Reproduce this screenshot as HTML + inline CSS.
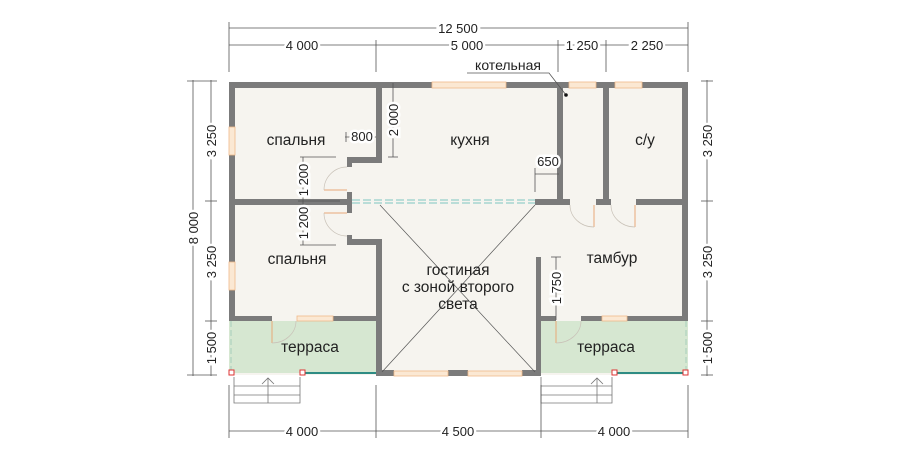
<!DOCTYPE html>
<html><head><meta charset="utf-8"><style>
body{margin:0;background:#fff}
svg{display:block}
text{font-family:"Liberation Sans",sans-serif;fill:#222}
</style></head><body>
<svg width="900" height="460" viewBox="0 0 900 460" xmlns="http://www.w3.org/2000/svg">
<rect x="229" y="82" width="459" height="293" fill="#f6f4ef"/>
<rect x="229" y="321" width="147" height="52" fill="#d6e7d1"/>
<rect x="541" y="321" width="147" height="52" fill="#d6e7d1"/>
<rect x="376" y="321" width="165" height="54" fill="#f6f4ef"/>
<g fill="#7b7b7b">
<rect x="229" y="82" width="203" height="6"/>
<rect x="506" y="82" width="63" height="6"/>
<rect x="596" y="82" width="19" height="6"/>
<rect x="642" y="82" width="46" height="6"/>
<rect x="229" y="82" width="6" height="45"/>
<rect x="229" y="155" width="6" height="166"/>
<rect x="229" y="290" width="6" height="31"/>
<rect x="682" y="82" width="6" height="239"/>
<rect x="376" y="82" width="6" height="81"/>
<rect x="347" y="157" width="35" height="6"/>
<rect x="347" y="157" width="5" height="10"/>
<rect x="347" y="192" width="5" height="21"/>
<rect x="229" y="199" width="123" height="6"/>
<rect x="347" y="235" width="5" height="10"/>
<rect x="347" y="239" width="34" height="6"/>
<rect x="376" y="239" width="6" height="137"/>
<rect x="557" y="82" width="6" height="123"/>
<rect x="603" y="82" width="6" height="123"/>
<rect x="535" y="199" width="35" height="6"/>
<rect x="596" y="199" width="15" height="6"/>
<rect x="636" y="199" width="52" height="6"/>
<rect x="229" y="316" width="43" height="5"/>
<rect x="333" y="316" width="48" height="5"/>
<rect x="376" y="370" width="18" height="6"/>
<rect x="448" y="370" width="20" height="6"/>
<rect x="522" y="370" width="19" height="6"/>
<rect x="536" y="257" width="5" height="119"/>
<rect x="536" y="316" width="20" height="5"/>
<rect x="581" y="316" width="21" height="5"/>
<rect x="627" y="316" width="61" height="5"/>
</g>
<g fill="#fbe8d3" stroke="#f0b98a" stroke-width="0.8">
<rect x="432" y="82" width="74" height="6"/>
<rect x="569" y="82" width="27" height="6"/>
<rect x="615" y="82" width="27" height="6"/>
<rect x="229" y="127" width="6" height="28"/>
<rect x="229" y="262" width="6" height="28"/>
<rect x="297" y="316" width="36" height="5"/>
<rect x="394" y="371" width="54" height="5"/>
<rect x="468" y="371" width="54" height="5"/>
<rect x="602" y="316" width="25" height="5"/>
</g>
<line x1="352" y1="200" x2="535" y2="200" stroke="#7fc6c0" stroke-width="1" stroke-dasharray="8,3"/>
<line x1="352" y1="203" x2="535" y2="203" stroke="#7fc6c0" stroke-width="1" stroke-dasharray="8,3"/>
<line x1="302" y1="373" x2="376" y2="373" stroke="#2e8c84" stroke-width="2"/>
<line x1="614" y1="373" x2="685" y2="373" stroke="#2e8c84" stroke-width="2"/>
<line x1="231" y1="321" x2="231" y2="373" stroke="#9cc9b7" stroke-width="0.8" stroke-dasharray="6,3"/>
<line x1="686" y1="321" x2="686" y2="373" stroke="#9cc9b7" stroke-width="0.8" stroke-dasharray="6,3"/>
<g fill="#fff" stroke="#d33" stroke-width="1"><rect x="229" y="370" width="5" height="5"/><rect x="300" y="370" width="5" height="5"/><rect x="612" y="370" width="5" height="5"/><rect x="683" y="370" width="5" height="5"/></g>
<g fill="none" stroke="#e8a878" stroke-width="1">
<line x1="324" y1="190" x2="347" y2="190"/><line x1="324" y1="213" x2="347" y2="213"/>
<line x1="594" y1="205" x2="594" y2="227"/><line x1="635" y1="205" x2="635" y2="227"/>
<line x1="272" y1="321" x2="272" y2="343"/><line x1="556" y1="321" x2="556" y2="343"/>
</g>
<g fill="none" stroke="#c9c2b8" stroke-width="0.7">
<path d="M324 190 A23 23 0 0 1 347 167"/><path d="M324 213 A23 23 0 0 0 347 236"/>
<path d="M570 205 A24 22 0 0 0 594 227"/><path d="M611 205 A24 22 0 0 0 635 227"/>
<path d="M272 343 A24 22 0 0 0 296 321"/><path d="M556 343 A25 22 0 0 0 581 321"/>
</g>
<g stroke="#555" stroke-width="0.7"><line x1="380" y1="205" x2="535" y2="372"/><line x1="535" y1="205" x2="382" y2="372"/></g>
<g fill="none" stroke="#777" stroke-width="0.8">
<path d="M234 377 V403 H300 V377 M234 386 H300 M234 395 H300 M268 378 V403 M262 384 L268 378 L274 384"/>
<path d="M541 377 V403 H612 V377 M541 386 H612 M541 395 H612 M597 378 V403 M591 384 L597 378 L603 384"/>
</g>
<g stroke="#555" stroke-width="0.8" fill="none">
<line x1="229" y1="28" x2="688" y2="28"/><line x1="229" y1="45" x2="688" y2="45"/>
<line x1="229" y1="22" x2="229" y2="72"/><line x1="688" y1="22" x2="688" y2="72"/>
<line x1="376" y1="40" x2="376" y2="72"/><line x1="558" y1="40" x2="558" y2="72"/><line x1="606" y1="40" x2="606" y2="72"/>
<line x1="193" y1="80" x2="193" y2="376"/><line x1="211" y1="80" x2="211" y2="376"/>
<line x1="187" y1="81" x2="217" y2="81"/><line x1="187" y1="375" x2="217" y2="375"/>
<line x1="205" y1="201" x2="217" y2="201"/><line x1="205" y1="321" x2="217" y2="321"/>
<line x1="707" y1="80" x2="707" y2="376"/><line x1="701" y1="81" x2="713" y2="81"/><line x1="701" y1="201" x2="713" y2="201"/><line x1="701" y1="321" x2="713" y2="321"/><line x1="701" y1="375" x2="713" y2="375"/>
<line x1="229" y1="431" x2="688" y2="431"/>
<line x1="229" y1="385" x2="229" y2="438"/><line x1="376" y1="385" x2="376" y2="438"/><line x1="541" y1="385" x2="541" y2="438"/><line x1="688" y1="385" x2="688" y2="438"/>
<line x1="345" y1="137" x2="376" y2="137"/><line x1="346" y1="132" x2="346" y2="142"/>
<line x1="393" y1="83" x2="393" y2="157"/><line x1="388" y1="157" x2="398" y2="157"/>
<line x1="303" y1="157" x2="303" y2="245"/><line x1="300" y1="157" x2="336" y2="157"/><line x1="300" y1="245" x2="336" y2="245"/><line x1="298" y1="201" x2="340" y2="201"/>
<line x1="535" y1="174" x2="559" y2="174"/><line x1="535" y1="168" x2="535" y2="192"/>
<line x1="556" y1="257" x2="556" y2="320"/><line x1="551" y1="257" x2="561" y2="257"/>
<polyline points="467,73 549,73 566,95"/>
</g>
<circle cx="566" cy="95" r="1.8" fill="#111"/>
<g font-size="13" text-anchor="middle">
<text x="458" y="33" fill="#333" stroke="#fff" stroke-width="6" paint-order="stroke">12 500</text>
<g stroke="#fff" stroke-width="5" paint-order="stroke">
<text x="302" y="50">4 000</text><text x="467" y="50">5 000</text><text x="582" y="50">1 250</text><text x="647" y="50">2 250</text>
<text x="302" y="436">4 000</text><text x="458" y="436">4 500</text><text x="614" y="436">4 000</text>
<text transform="translate(198,228) rotate(-90)">8 000</text>
<text transform="translate(216,141) rotate(-90)">3 250</text>
<text transform="translate(216,262) rotate(-90)">3 250</text>
<text transform="translate(216,348) rotate(-90)">1 500</text>
<text transform="translate(712,141) rotate(-90)">3 250</text>
<text transform="translate(712,262) rotate(-90)">3 250</text>
<text transform="translate(712,348) rotate(-90)">1 500</text>
<text x="362" y="141">800</text>
<text transform="translate(398,120) rotate(-90)">2 000</text>
<text transform="translate(308,180) rotate(-90)">1 200</text>
<text transform="translate(308,223) rotate(-90)">1 200</text>
<text transform="translate(561,288) rotate(-90)">1 750</text>
<text x="548" y="166">650</text>
</g>
<text x="508" y="70" font-size="14">котельная</text>
</g>
<g font-size="15.5" text-anchor="middle">
<text x="296" y="145">спальня</text><text x="470" y="145">кухня</text><text x="645" y="145">с/у</text>
<text x="297" y="264">спальня</text><text x="612" y="263">тамбур</text>
<text x="458" y="275">гостиная</text><text x="458" y="292">с зоной второго</text><text x="458" y="309">света</text>
<text x="310" y="352">терраса</text><text x="606" y="352">терраса</text>
</g>
</svg>
</body></html>
